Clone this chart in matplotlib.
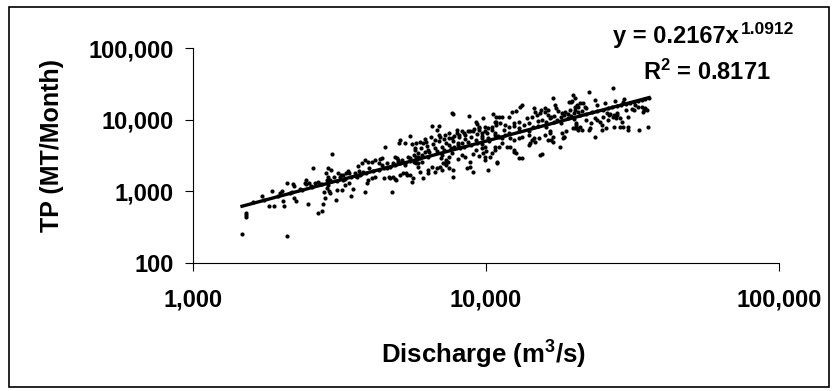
import matplotlib
matplotlib.use('Agg')
import matplotlib.pyplot as plt
import numpy as np
from matplotlib.patches import Rectangle
from matplotlib.ticker import FixedLocator, FuncFormatter, NullLocator

plt.rcParams['font.family'] = ['Liberation Sans', 'DejaVu Sans']
plt.rcParams['font.weight'] = 'bold'
# indeksy górne (m3, R2, wykładnik) tą samą czcionką
plt.rcParams['mathtext.fontset'] = 'custom'
plt.rcParams['mathtext.rm'] = 'Liberation Sans:bold'
plt.rcParams['mathtext.bf'] = 'Liberation Sans:bold'
plt.rcParams['mathtext.it'] = 'Liberation Sans:bold'
plt.rcParams['mathtext.default'] = 'rm'

# ---- dane (m3/s, MT/month) ----
discharge = [
    # niskie przepływy
    1470, 1515, 1515, 1515, 1716, 1821, 1890, 1856, 2008, 2033, 2045, 2098, 2098,
    2199, 2210, 2215, 2243, 2424, 2430, 2490, 2465, 2530, 2574, 2665, 2750, 2785,
    2820, 2838, 2810, 2860, 2880, 2714, 2170, 2410, 2610, 2680, 2937, 2319, 1982,
    1600, 1750, 1950, 2150, 2350, 2550, 2750, 2910, 2937, 2870,
    # 3 000 - 6 000
    2975, 2897, 2955, 2880, 3020, 3090, 3225, 3065, 3133, 3177, 3257, 3320, 3257,
    3290, 3380, 3413, 3460, 3517, 3660, 3760, 3860, 3970, 4090, 4190, 3570, 3620,
    3720, 3810, 3860, 3910, 3970, 4090, 4190, 4300, 4350, 4420, 4530, 4590, 4710,
    4770, 4890, 4950, 5040, 5090, 5280, 4830, 5090, 5200, 5320, 5390, 5510, 5600,
    5600, 5710, 5790, 5860, 5960, 4800, 5010, 5150, 5280, 5510, 5680, 5860, 4490,
    4680, 4890, 4930, 5650, 5790, 5510, 3100, 3300, 3450, 3600, 3750, 3900, 4100,
    4300, 4500, 4700, 4900, 5100, 5300, 5500, 5800, 3200, 3400, 3700, 4000, 4400,
    4600, 5000, 5400, 5700,
    # 6 000 - 11 000
    7640, 7740, 6530, 6890, 6830, 8750, 9340, 9220, 9800, 10540, 10820, 10700,
    5790, 5960, 6110, 6260, 5710, 5860, 6040, 6180, 6320, 5710, 5860, 6040, 6320,
    6530, 6720, 6790, 6110, 6320, 7060, 7150, 7330, 7420, 7740, 7740, 8620, 8830,
    9060, 10180, 9950, 10340, 10470, 10700, 10930, 6976, 7260, 7450,
    6700, 6976, 7260, 7450, 7640, 7960, 8060, 8270, 8490, 8700, 9060, 9430, 9680,
    9950, 10180, 10470, 10860, 7960, 9430,
    6700, 7060, 7450, 7800, 8270, 8700, 9220, 9680, 10180, 10700,
    5960, 6320, 7060, 7640, 8270, 9220, 9950, 10700, 9950, 9800, 9680, 8060, 8165,
    6000, 6300, 6600, 6900, 7200, 7500, 7800, 8100, 8400, 8800, 9100, 9500, 9900,
    6200, 6500, 6900, 7300, 7700, 8000, 8500, 8900, 9300, 9700, 10100, 10500,
    6400, 6800, 7200, 7600, 8000, 8400, 8900, 9300, 9700, 10200,
    7000, 7500, 8000, 8500, 9000, 9500, 10000, 7300, 8800,
    # 11 000 - 20 000
    16970, 19800, 20050, 19650, 19200, 17200, 17400, 17600, 15870, 16300, 15450,
    14550, 14750, 13090, 13250, 12280, 12680, 11960, 11350, 11050,
    10800, 11190, 11650, 12420, 12930, 13800, 14300, 14950, 15320, 15870, 16300,
    16720, 18170, 18550, 19400, 20050, 20500,
    10700, 11050, 11350, 11650, 12100, 12420, 12930, 13250, 13980, 14300, 14750,
    15150, 15870, 16580, 16970, 18170, 18800, 19770, 20280,
    11050, 11350, 11800, 12420, 12680, 12930, 13250, 13980, 15320, 16300, 16970,
    17930, 18380, 20050, 20400, 10930, 15500, 14160, 14550, 12100, 12420, 16720,
    16580, 18400,
    11500, 12000, 12500, 13000, 13500, 14000, 14500, 15000, 15500, 16000, 16500,
    17000, 17500, 18000, 18500, 19000, 19500, 20000,
    11000, 12000, 13000, 14000, 15000, 16000, 17000, 18000, 19000, 20000,
    # powyżej 20 000
    27200, 22530, 23500, 21500, 22000, 20600, 20050, 21000, 21700, 19550, 25900,
    27300, 27700, 20280, 20990, 22400, 22700, 20600, 21300, 24560, 24800, 24900,
    25700, 23600, 26200, 27200, 27300, 28750, 29200, 28750, 29400, 30600, 30600,
    32000, 33200, 34000, 34800, 34400, 35800, 34600, 35400, 18400,
    21000, 22000, 23000, 24000, 25000, 26000, 27000, 28000, 29000, 30000, 31000,
    32000, 33000, 34000, 35000, 36000,
    24000, 25500, 27500, 29500, 29400, 32200,
    22000, 23500, 25000, 26500, 28000, 30000, 31500, 33000, 22800, 24000, 26000,
    28000, 30500, 20600, 21300,
]

tp = [
    252, 505, 444, 475, 855, 620, 620, 1023, 1023, 735, 620, 1322, 236,
    1256, 1170, 801, 741, 1443, 1270, 1322, 661, 1205, 2100, 505, 535, 661,
    801, 1823, 990, 1105, 1230, 1270, 990, 1290, 1300, 1350, 1443, 1080, 945,
    700, 760, 850, 960, 1050, 1150, 1280, 1023, 940, 1460,
    3325, 2100, 1990, 1603, 1570, 1045, 1045, 758, 1787, 1603, 1690, 1823, 1443,
    1230, 1950, 1290, 860, 1070, 2260, 2460, 2740, 2600, 2600, 2740, 1787, 1603,
    1690, 1880, 990, 1290, 1443, 1530, 1603, 2460, 2870, 2900, 4200, 2100, 1530,
    990, 3050, 2900, 4690, 5210, 4690, 1603, 1690, 1787, 1787, 1690, 5930, 4570,
    1330, 3990, 3050, 2210, 1880, 2490, 2570, 2740, 2330, 2900, 2570, 3000, 1530,
    1603, 1480, 1420, 1530, 2460, 1690, 1400, 1500, 1560, 1650, 1720, 1800, 1900,
    2000, 2100, 2220, 2330, 2450, 2520, 2650, 2800, 1700, 1800, 1950, 2100, 2300,
    2500, 2700, 3000, 3200,
    12520, 11890, 8170, 8170, 7180, 11270, 8710, 9360, 10400, 12000, 11000, 9360,
    4690, 4900, 4750, 4900, 3780, 3400, 3220, 3570, 3780, 2600, 2460, 2600, 1990,
    2210, 1880, 2100, 1530, 1787, 1990, 2460, 2330, 2600, 1603, 1990, 2100, 2210,
    1880, 1990, 2740, 3050, 3400, 3780, 2600, 2210, 2460, 2100,
    5210, 5810, 6150, 6500, 5490, 6500, 5810, 6860, 6150, 6860, 6860, 7180, 6500,
    6860, 7580, 8000, 8450, 7180, 8000,
    3990, 4200, 4450, 4200, 4690, 4900, 5210, 5490, 5490, 6150,
    2900, 3050, 3220, 3400, 3220, 3780, 4200, 4200, 3050, 3400, 3990, 4200, 3990,
    4000, 4300, 4600, 5000, 5300, 5600, 5900, 6200, 6600, 7000, 7400, 7700, 8000,
    5300, 5700, 6100, 4800, 5100, 4700, 5400, 5800, 6300, 6000, 6500, 7100,
    3500, 3600, 3800, 4000, 4400, 4100, 4500, 4700, 4600, 5000,
    2900, 3000, 2800, 3000, 3300, 3100, 3600, 2700, 2600,
    19890, 22100, 20300, 18260, 17500, 16030, 14400, 13200, 14400, 13650, 13650,
    14700, 12900, 15200, 16000, 12900, 13200, 11000, 11000, 11000,
    9360, 8890, 8430, 8890, 9360, 10400, 11000, 11600, 12300, 12900, 11600,
    11000, 12300, 12900, 13650, 15200, 16000,
    6500, 5810, 5490, 6150, 5490, 5210, 5490, 5810, 6150, 5210, 4900,
    5490, 6150, 6500, 5810, 6500, 6860, 7580, 8450,
    4200, 4690, 4200, 3780, 3400, 2900, 2900, 4450, 3220, 5210, 4900,
    4200, 5490, 7580, 7580, 2510, 3300, 4690, 5490, 4200, 3570, 5210,
    6860, 5800,
    7200, 7800, 8200, 7600, 8400, 9000, 8000, 9500, 10000, 9200, 10400,
    11200, 10000, 10800, 11500, 12000, 11200, 12500,
    5900, 6500, 7000, 7000, 8200, 8000, 9300, 9000, 10500, 10200,
    27400, 24100, 18800, 17000, 14400, 15200, 13650, 17000, 15200, 17900, 12300,
    11600, 10400, 8890, 7980, 7180, 7580, 7180, 7180, 9360, 8430, 7180,
    7650, 5790, 11600, 11000, 8000, 10400, 9360, 8000, 8000, 8000, 7180,
    13650, 7180, 15200, 14400, 12900, 7980, 13650, 13650, 5800,
    11500, 12000, 12800, 13200, 13800, 14500, 15000, 15600, 16200, 16700, 17200,
    17900, 18500, 19000, 19500, 20300,
    16000, 17000, 18000, 19500, 17900, 16000,
    10000, 10500, 11000, 12000, 12500, 13500, 14000, 15000, 9000, 9800, 10000,
    11500, 11000, 12600, 13400,
]

# linia trendu (regresja potęgowa z wykresu)
fit_a = 0.2167
fit_b = 1.0912
r_squared = 0.8171

x_ticks = [1000, 10000, 100000]
y_ticks = [100, 1000, 10000, 100000]

# ===== WYKRES =====
fig = plt.figure(figsize=(8.33, 3.91), dpi=100)
ax = fig.add_axes([193 / 833, 1 - 263 / 391, 586 / 833, 215 / 391])

ax.scatter(discharge, tp, s=9, c='black', linewidths=0, zorder=3)

q_line = np.array([min(discharge), max(discharge)], dtype=float)
ax.plot(q_line, fit_a * q_line ** fit_b, color='black', lw=2.4, zorder=4)

ax.set_xscale('log')
ax.set_yscale('log')
ax.set_xlim(x_ticks[0], x_ticks[-1])
ax.set_ylim(y_ticks[0], y_ticks[-1])

fmt = FuncFormatter(lambda v, pos: f'{v:,.0f}')
ax.xaxis.set_major_locator(FixedLocator(x_ticks))
ax.yaxis.set_major_locator(FixedLocator(y_ticks))
ax.xaxis.set_minor_locator(NullLocator())
ax.yaxis.set_minor_locator(NullLocator())
ax.xaxis.set_major_formatter(fmt)
ax.yaxis.set_major_formatter(fmt)
ax.tick_params(axis='x', direction='out', length=6, width=0.8, pad=12,
               labelsize=17)
ax.tick_params(axis='y', direction='out', length=6, width=0.8, pad=8,
               labelsize=17)

for side in ['top', 'right']:
    ax.spines[side].set_visible(False)
for side in ['left', 'bottom']:
    ax.spines[side].set_linewidth(0.8)

# opisy osi
fig.text(483 / 833, 1 - 355 / 391, r'Discharge (m$^{3}$/s)', ha='center',
         va='center', fontsize=18.5, fontweight='bold')
fig.text(52 / 833, 1 - 146 / 391, 'TP (MT/Month)', ha='center', va='center',
         rotation=90, fontsize=18, fontweight='bold')

# równanie regresji
eq = fig.text(613 / 833, 1 - 42.7 / 391, f'y = {fit_a:.4f}x', ha='left',
              va='baseline', fontsize=17, fontweight='bold')
ax.annotate(f'{fit_b:.4f}', xy=(1, 1), xycoords=eq, xytext=(1.5, 2),
            textcoords='offset points', ha='left', va='top', fontsize=12.5,
            fontweight='bold', annotation_clip=False)
fig.text(643 / 833, 1 - 80 / 391, f'R$^{{2}}$ = {r_squared:.4f}', ha='left',
         va='baseline', fontsize=17, fontweight='bold')

# ramka wokół całości
fig.patches.append(Rectangle((9 / 833, 1 - 387 / 391), 820 / 833, 380 / 391,
                             transform=fig.transFigure, fill=False,
                             ec='black', lw=1.2))

fig.savefig('out.png', dpi=100)
